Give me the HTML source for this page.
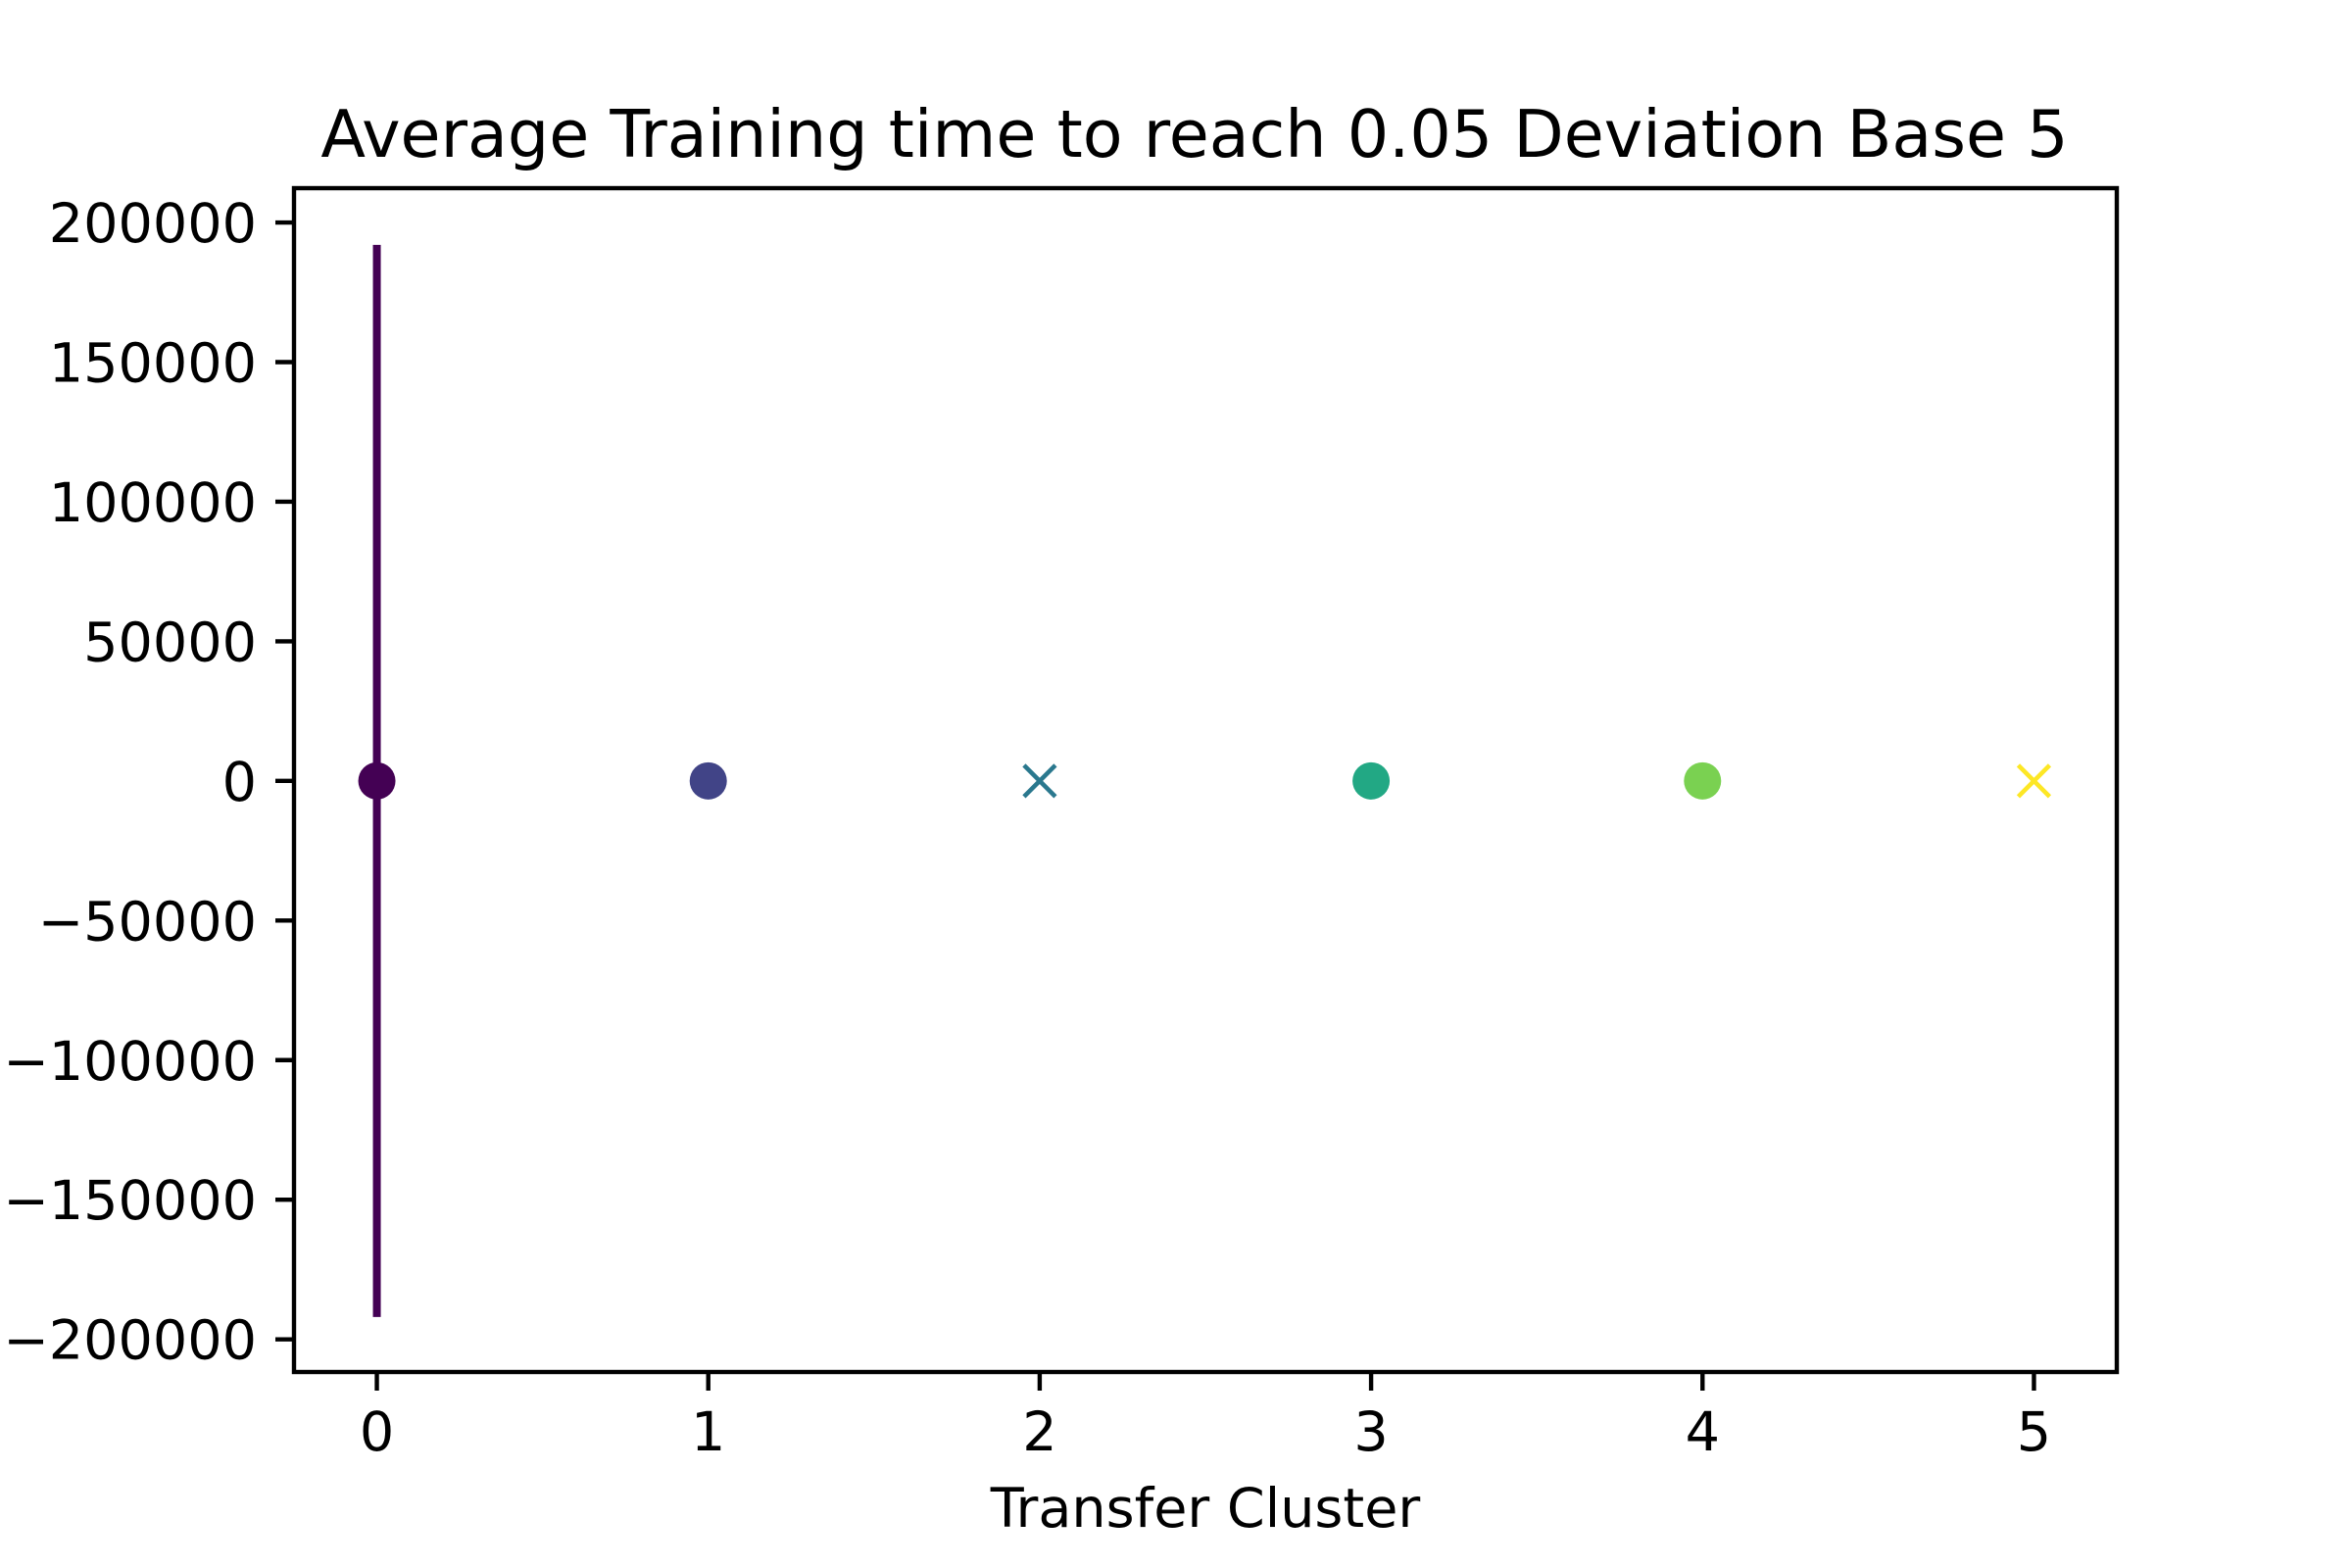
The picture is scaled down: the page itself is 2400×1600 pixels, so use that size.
<!DOCTYPE html>
<html><head><meta charset="utf-8"><style>
html,body{margin:0;padding:0;background:#fff;}
svg{display:block;font-family:"DejaVu Sans","Liberation Sans",sans-serif;}
</style></head><body>
<svg id="chart" width="2400" height="1600" viewBox="0 0 2400 1600" xmlns="http://www.w3.org/2000/svg">
<rect width="2400" height="1600" fill="#fff"/>
<text x="1219" y="160" font-size="66.7" text-anchor="middle">Average Training time to reach 0.05 Deviation Base 5</text>
<text x="1230" y="1558" font-size="55.6" text-anchor="middle">Transfer Cluster</text>
<g id="marks"></g>
<g id="axes"></g>
</svg>
<script>
const categories = [0, 1, 2, 3, 4, 5];
const values = [0, 0, 0, 0, 0, 0];
const errors = [192000, 0, 0, 0, 0, 0];
const markers = ['o', 'o', 'x', 'o', 'o', 'x'];
const colors = ['#440154', '#414487', '#2a788e', '#22a884', '#7ad151', '#fde725'];
const xTicks = [0, 1, 2, 3, 4, 5];
const yTicks = [200000, 150000, 100000, 50000, 0, -50000, -100000, -150000, -200000];

const L = 300, R = 2160, T = 192, B = 1400;
const xMin = -0.25, xMax = 5.25, yMin = -211700, yMax = 212300;
const ns = 'http://www.w3.org/2000/svg';
function xs(v) { return L + (v - xMin) / (xMax - xMin) * (R - L); }
function ys(v) { return B - (v - yMin) / (yMax - yMin) * (B - T); }
function mk(tag, attrs, parent) {
  const e = document.createElementNS(ns, tag);
  for (const k in attrs) e.setAttribute(k, attrs[k]);
  parent.appendChild(e);
  return e;
}
const marks = document.getElementById('marks');
const axes = document.getElementById('axes');

categories.forEach((c, i) => {
  const cx = xs(c), cy = ys(values[i]);
  if (errors[i] > 0) {
    const eb = mk('line', {x1: cx, x2: cx, y1: ys(values[i] + errors[i]), y2: ys(values[i] - errors[i]), stroke: colors[i], 'stroke-width': 8}, marks);
    
    
  }
  if (markers[i] === 'o') {
    const p = mk('ellipse', {cx: cx, cy: cy, rx: 19, ry: 19, fill: colors[i]}, marks);
    
    
  } else {
    const s = 16;
    const g = mk('path', {d: `M${cx - s},${cy - s}L${cx + s},${cy + s}M${cx - s},${cy + s}L${cx + s},${cy - s}`, stroke: colors[i], 'stroke-width': 4.5, fill: 'none'}, marks);
    
    
  }
});

const frame = mk('rect', {x: L, y: T, width: R - L, height: B - T, fill: 'none', stroke: '#000', 'stroke-width': 4.4}, axes);



xTicks.forEach(t => {
  const x = xs(t);
  const tk = mk('line', {x1: x, x2: x, y1: B, y2: B + 19, stroke: '#000', 'stroke-width': 4.4}, axes);
  
  
  const lb = mk('text', {x: x, y: B + 80, 'font-size': 55.6, 'text-anchor': 'middle'}, axes);
  lb.textContent = String(t);
  
  
});
yTicks.forEach(t => {
  const y = ys(t);
  const tk = mk('line', {x1: L - 19, x2: L, y1: y, y2: y, stroke: '#000', 'stroke-width': 4.4}, axes);
  
  
  const lb = mk('text', {x: L - 38, y: y + 20, 'font-size': 55.6, 'text-anchor': 'end'}, axes);
  lb.textContent = t < 0 ? '\u2212' + String(-t) : String(t);
  
  
});
</script>
</body></html>
